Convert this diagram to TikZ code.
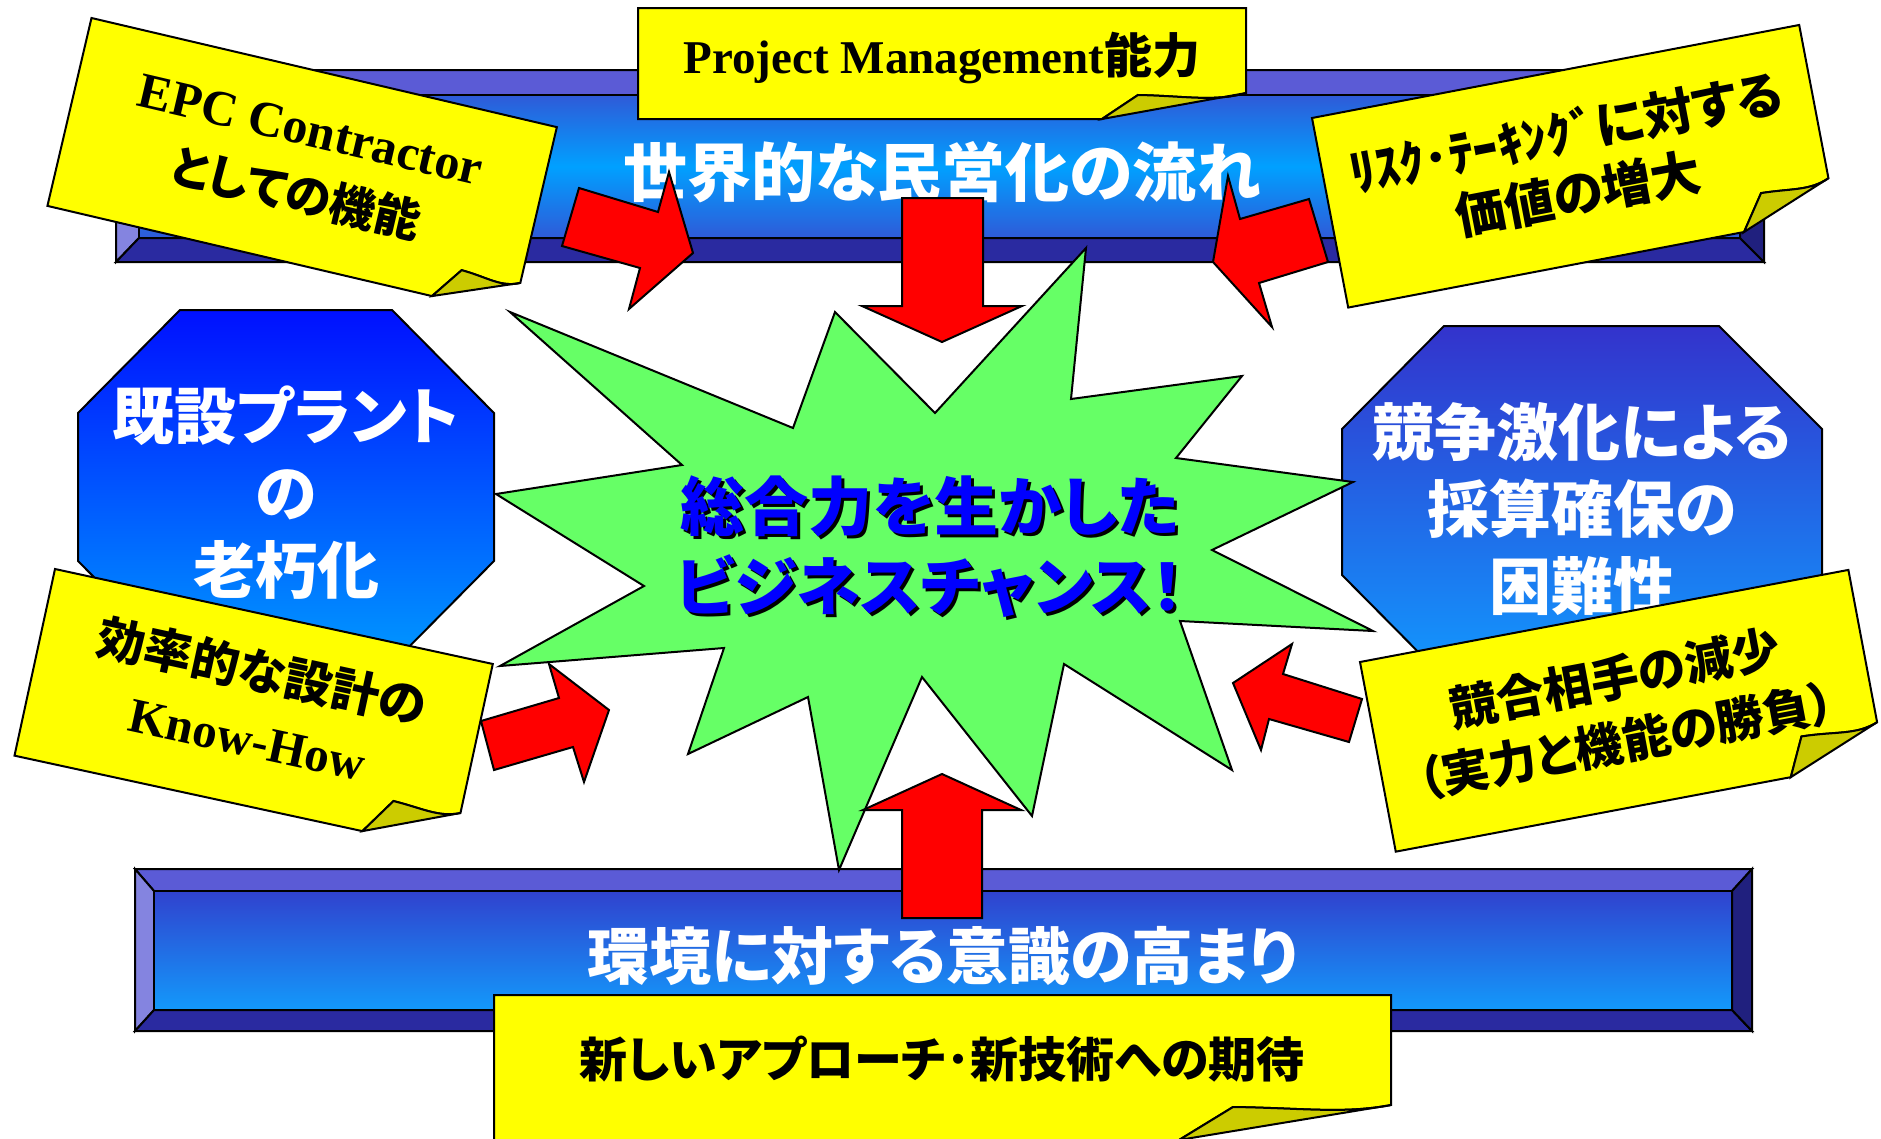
\documentclass[tikz,border=0pt]{standalone}
\usepackage{fontspec}
\setmainfont{Liberation Serif}
\newfontfamily\jp{Noto Sans CJK JP}[RawFeature=+palt]
\definecolor{noteyellow}{HTML}{FFFF00}
\definecolor{flapyellow}{HTML}{CCCC00}
\definecolor{bevtop}{HTML}{5B5BD6}
\definecolor{bevleft}{HTML}{8484E0}
\definecolor{bevbot}{HTML}{2A2AA0}
\definecolor{bevright}{HTML}{20207E}
\definecolor{faceA}{HTML}{2F5AD8}
\definecolor{faceB}{HTML}{00A0FF}
\definecolor{faceC}{HTML}{3042CE}
\definecolor{faceD}{HTML}{1399FB}
\definecolor{octLtop}{HTML}{0010FF}
\definecolor{octLbot}{HTML}{0099FF}
\definecolor{octRtop}{HTML}{3333CC}
\definecolor{octRbot}{HTML}{1199FF}
\definecolor{burst}{HTML}{66FF66}
\definecolor{arrowred}{HTML}{FF0000}
\definecolor{bizblue}{HTML}{0000FF}
\tikzset{
  outl/.style={draw=black,line width=2pt,line join=miter},
  notebody/.style={outl,fill=noteyellow},
  noteflap/.style={outl,fill=flapyellow},
  redarrow/.style={outl,fill=arrowred},
  bannertext/.style={text=white,font=\jp\bfseries\fontsize{64}{77}\selectfont,align=center,inner sep=0pt},
  octtext/.style={text=white,font=\jp\bfseries\fontsize{62}{77}\selectfont,align=center,inner sep=0pt},
  notetext/.style={text=black,font=\jp\bfseries\fontsize{48}{66}\selectfont,align=center,inner sep=0pt},
  bigtext/.style={font=\jp\bfseries\fontsize{64}{80}\selectfont,align=center,inner sep=0pt},
}
% W H r cx cy b
\newcommand{\stickynote}[6]{%
  \filldraw[notebody] (0,0) -- (#1,0) -- (#1,#2-#3)
     .. controls +(-0.3*#4,9) and +(0.45*#4,1) .. (#1-#4,#2-#5)
     -- (#1-#6,#2) -- (0,#2) -- cycle;
  \filldraw[noteflap] (#1-#4,#2-#5) .. controls +(0.45*#4,1) and +(-0.3*#4,9) .. (#1,#2-#3)
     -- (#1-#6,#2) -- cycle;
}
% outer x1 y1 x2 y2, inner x1 y1 x2 y2
\newcommand{\bevelbanner}[8]{%
  \filldraw[outl,fill=bevtop] (#1,#2) -- (#3,#2) -- (#7,#6) -- (#5,#6) -- cycle;
  \filldraw[outl,fill=bevleft] (#1,#2) -- (#5,#6) -- (#5,#8) -- (#1,#4) -- cycle;
  \filldraw[outl,fill=bevbot] (#1,#4) -- (#5,#8) -- (#7,#8) -- (#3,#4) -- cycle;
  \filldraw[outl,fill=bevright] (#3,#2) -- (#3,#4) -- (#7,#8) -- (#7,#6) -- cycle;
}
\begin{document}
\begin{tikzpicture}[x=1pt,y=-1pt]
\useasboundingbox (0,0) rectangle (1881,1138);
\fill[white] (0,0) rectangle (1881,1138);

% top banner
\bevelbanner{116}{70}{1764}{262}{139}{95}{1740}{238}
\shadedraw[outl,top color=faceA,bottom color=faceA,middle color=faceB] (139,95) rectangle (1740,238);
\node[bannertext] (trend) at (942,172) {世界的な民営化の流れ};

% bottom banner
\bevelbanner{135}{869}{1752}{1031}{154}{891}{1732}{1010}
\shadedraw[outl,top color=faceC,bottom color=faceD] (154,891) rectangle (1732,1010);
\node[bannertext,font=\jp\bfseries\fontsize{62}{77}\selectfont] (env) at (943,956) {環境に対する意識の高まり};

% octagons
\shadedraw[outl,top color=octLtop,bottom color=octLbot]
  (180,310) -- (392,310) -- (494,413) -- (494,561) -- (392,664) -- (180,664) -- (78,561) -- (78,413) -- cycle;
\node[octtext] (aging) at (286,493) {既設プラント\\の\\老朽化};
\shadedraw[outl,top color=octRtop,bottom color=octRbot]
  (1444,326) -- (1719,326) -- (1822,429) -- (1822,575) -- (1719,678) -- (1444,678) -- (1342,575) -- (1342,429) -- cycle;
\node[octtext] (compet) at (1582,509) {競争激化による\\採算確保の\\困難性};

% starburst
\filldraw[outl,fill=burst] (510,312) -- (793,428) -- (835,312) -- (935,413) -- (1086,248) -- (1071,399)
  -- (1242,376) -- (1176,458) -- (1353,482) -- (1212,550) -- (1373,631) -- (1180,621) -- (1232,770)
  -- (1064,664) -- (1032,816) -- (922,677) -- (839,870) -- (808,697) -- (688,754) -- (724,648)
  -- (500,666) -- (644,586) -- (496,494) -- (682,465) -- cycle;
\node[bigtext,text=black] (chanceshadow) at (933,550) {総合力を生かした\\ビジネスチャンス！};
\node[bigtext,text=bizblue] (chance) at (930,547) {総合力を生かした\\ビジネスチャンス！};

% red arrows
\filldraw[redarrow] (579,188) -- (658,212) -- (669,172) -- (693,253) -- (629,309) -- (640,268) -- (562,246) -- cycle;
\filldraw[redarrow] (1228,176) -- (1240,219) -- (1309,199) -- (1328,262) -- (1259,283) -- (1272,327) -- (1213,262) -- cycle;
\filldraw[redarrow] (549,664) -- (559,698) -- (481,721) -- (494,770) -- (573,747) -- (584,782) -- (609,710) -- cycle;
\filldraw[redarrow] (1292,644) -- (1283,674) -- (1362,699) -- (1349,742) -- (1269,719) -- (1261,750) -- (1233,683) -- cycle;
\filldraw[redarrow] (902,198) -- (983,198) -- (983,306) -- (1022,306) -- (942,342) -- (862,306) -- (902,306) -- cycle;
\filldraw[redarrow] (902,918) -- (902,810) -- (863,810) -- (942,774) -- (1021,810) -- (982,810) -- (982,918) -- cycle;

% notes
\begin{scope}[shift={(638,8)}]
  \stickynote{608}{111}{26}{108}{24}{144}
  \node[notetext] (pm) at (304,50) {{\rmfamily\fontsize{47}{60}\selectfont Project Management}能力};
\end{scope}
\begin{scope}[shift={(91.5,18)},rotate=-13.2,transform shape]
  \stickynote{478}{193}{33}{60}{32}{83}
  \node[notetext,font=\jp\bfseries\fontsize{46}{66}\selectfont] (epc) at (239,94) {{\rmfamily\fontsize{50}{66}\selectfont EPC Contractor}\\としての機能};
\end{scope}
\begin{scope}[shift={(1312,118)},rotate=10.81,transform shape]
  \stickynote{496}{193}{37}{69}{35}{93}
  \node[notetext,font=\jp\bfseries\fontsize{50}{62}\selectfont] (risk) at (247,93) {ﾘｽｸ･ﾃｰｷﾝｸﾞに対する\\価値の増大};
\end{scope}
\begin{scope}[shift={(55,569)},rotate=-12.24,transform shape]
  \stickynote{448}{191}{38.5}{68}{36}{92}
  \node[notetext,font=\jp\bfseries\fontsize{48}{68}\selectfont] (knowhow) at (224,88) {効率的な設計の\\{\rmfamily\fontsize{49}{68}\selectfont Know-How}};
\end{scope}
\begin{scope}[shift={(1360,662)},rotate=10.68,transform shape]
  \stickynote{497}{193}{38}{77}{38}{95}
  \node[notetext,font=\jp\bfseries\fontsize{48}{64}\selectfont] (rivals) at (247,95) {競合相手の減少\\（実力と機能の勝負）};
\end{scope}
\begin{scope}[shift={(494,995)}]
  \stickynote{897}{145}{35}{158}{33}{212}
  \node[notetext] (newtech) at (448,64) {新しいアプローチ･新技術への期待};
\end{scope}
\end{tikzpicture}
\end{document}
